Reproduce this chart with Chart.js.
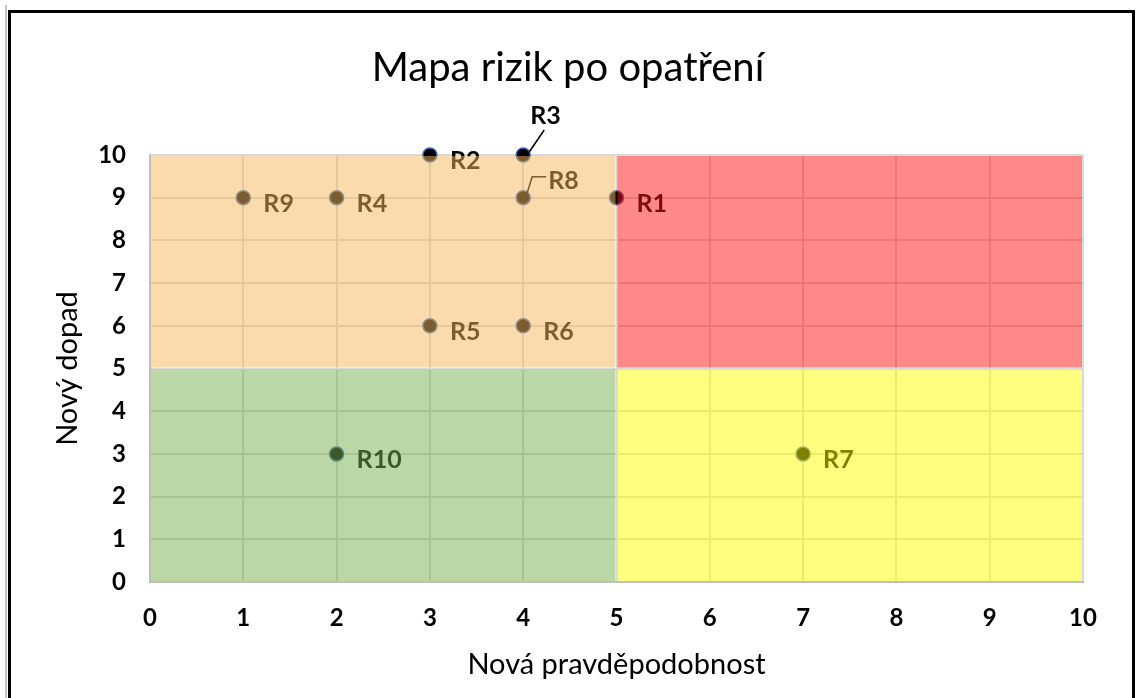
<!DOCTYPE html>
<html>

<head>
    <title>Mapa rizik po opatření</title>
    <meta charset="UTF-8">
    <script src="https://cdn.jsdelivr.net/npm/chart.js"></script>
    <style>
        html, body { margin: 0; padding: 0; background: #fff; }
        #chartContainer { width: 1136px; height: 698px; }
    </style>
</head>

<body>
    <div id="chartContainer">
        <canvas id="riskChart" width="1136" height="698"></canvas>
    </div>

    <script>
        // risks after the measures: new probability (x) and new impact (y)
        var riskNames = ['R1', 'R2', 'R3', 'R4', 'R5', 'R6', 'R7', 'R8', 'R9', 'R10'];
        var probability = [5, 3, 4, 2, 3, 4, 7, 4, 1, 2];
        var impact = [9, 10, 10, 9, 6, 6, 3, 9, 9, 3];

        // quadrants of the map, in axis units
        var zoneX = [[0, 5], [5, 10], [0, 5], [5, 10]];
        var zoneY = [[5, 10], [5, 10], [0, 5], [0, 5]];
        var zoneColors = ['rgba(245,184,92,0.5)', 'rgba(255,20,20,0.5)', 'rgba(120,175,77,0.5)', 'rgba(255,255,0,0.5)'];

        var axisMin = 0;
        var axisMax = 10;
        var axisStep = 1;

        var FONT = 'Lato';

        // where the label sits relative to its point (default: to the right)
        var labelPlacement = {
            'R3': { dx: 7, dy: -39, leader: [[6, -3], [21, -25]] },
            'R8': { dx: 25, dy: -17, leader: [[4, -5], [9, -21], [23, -21]] }
        };

        var points = riskNames.map(function (name, i) {
            return { x: probability[i], y: impact[i], name: name };
        });

        var framePlugin = {
            id: 'frame',
            beforeDraw: function (chart) {
                var ctx = chart.ctx;
                ctx.save();
                ctx.fillStyle = '#fff';
                ctx.fillRect(0, 0, chart.width, chart.height);
                ctx.strokeStyle = '#c0c0c0';
                ctx.lineWidth = 2;
                ctx.beginPath();
                ctx.moveTo(6, 5);
                ctx.lineTo(6, chart.height);
                ctx.stroke();
                ctx.strokeStyle = '#000';
                ctx.lineWidth = 3;
                ctx.strokeRect(9.5, 11.5, 1124, 800);
                ctx.restore();
            }
        };

        // labels are drawn first, then the coloured quadrants lie over points and labels
        var zonePlugin = {
            id: 'zones',
            afterDatasetsDraw: function (chart) {
                var ctx = chart.ctx;
                var xs = chart.scales.x;
                var ys = chart.scales.y;
                ctx.save();

                ctx.fillStyle = '#000';
                ctx.strokeStyle = '#000';
                ctx.lineWidth = 1.5;
                ctx.font = 'bold 25px ' + FONT;
                ctx.textAlign = 'left';
                ctx.textBaseline = 'middle';
                points.forEach(function (p) {
                    var px = xs.getPixelForValue(p.x);
                    var py = ys.getPixelForValue(p.y);
                    var place = labelPlacement[p.name] || { dx: 20, dy: 6 };
                    if (place.leader) {
                        ctx.beginPath();
                        place.leader.forEach(function (pt, k) {
                            if (k === 0) ctx.moveTo(px + pt[0], py + pt[1]);
                            else ctx.lineTo(px + pt[0], py + pt[1]);
                        });
                        ctx.stroke();
                    }
                    ctx.fillText(p.name, px + place.dx, py + place.dy);
                });

                zoneX.forEach(function (zx, i) {
                    var left = xs.getPixelForValue(zx[0]) + 1;
                    var right = xs.getPixelForValue(zx[1]) - 1;
                    var top = ys.getPixelForValue(zoneY[i][1]) + 1;
                    var bottom = ys.getPixelForValue(zoneY[i][0]) - 1;
                    ctx.fillStyle = zoneColors[i];
                    ctx.fillRect(left, top, right - left, bottom - top);
                });
                ctx.restore();
            }
        };

        var ctx = document.getElementById('riskChart').getContext('2d');
        var chart = new Chart(ctx, {
            type: 'scatter',
            data: {
                datasets: [{
                    label: 'Rizika',
                    data: points,
                    clip: false,
                    pointRadius: 7,
                    pointHoverRadius: 7,
                    pointBackgroundColor: '#000',
                    pointBorderColor: '#3a66b5',
                    pointBorderWidth: 1.5
                }]
            },
            options: {
                responsive: false,
                animation: false,
                layout: { padding: { left: 53, right: 53, top: 0, bottom: 0 } },
                plugins: {
                    legend: { display: false },
                    tooltip: { enabled: false },
                    title: {
                        display: true,
                        text: 'Mapa rizik po opatření',
                        color: '#000',
                        font: { family: FONT, size: 40, weight: 'normal' },
                        padding: { top: 44, bottom: 63 }
                    }
                },
                scales: {
                    x: {
                        type: 'linear',
                        min: axisMin,
                        max: axisMax,
                        afterFit: function (scale) { scale.height = 116; },
                        grid: { color: '#d9d9d9', lineWidth: 2, drawTicks: false },
                        border: { color: '#bfbfbf', width: 2 },
                        ticks: {
                            stepSize: axisStep,
                            padding: 22,
                            color: '#000',
                            font: { family: FONT, size: 24, weight: 'bold' }
                        },
                        title: {
                            display: true,
                            text: 'Nová pravděpodobnost',
                            color: '#000',
                            font: { family: FONT, size: 29, weight: 'normal' },
                            padding: { top: 0, bottom: 16 }
                        }
                    },
                    y: {
                        type: 'linear',
                        min: axisMin,
                        max: axisMax,
                        afterFit: function (scale) { scale.width = 97; },
                        grid: { color: '#d9d9d9', lineWidth: 2, drawTicks: false },
                        border: { color: '#bfbfbf', width: 2 },
                        ticks: {
                            stepSize: axisStep,
                            padding: 24,
                            color: '#000',
                            font: { family: FONT, size: 24, weight: 'bold' }
                        },
                        title: {
                            display: true,
                            text: 'Nový dopad',
                            color: '#000',
                            font: { family: FONT, size: 29, weight: 'normal' },
                            padding: { top: -3, bottom: 0 }
                        }
                    }
                }
            },
            plugins: [framePlugin, zonePlugin]
        });
    </script>
</body>

</html>
